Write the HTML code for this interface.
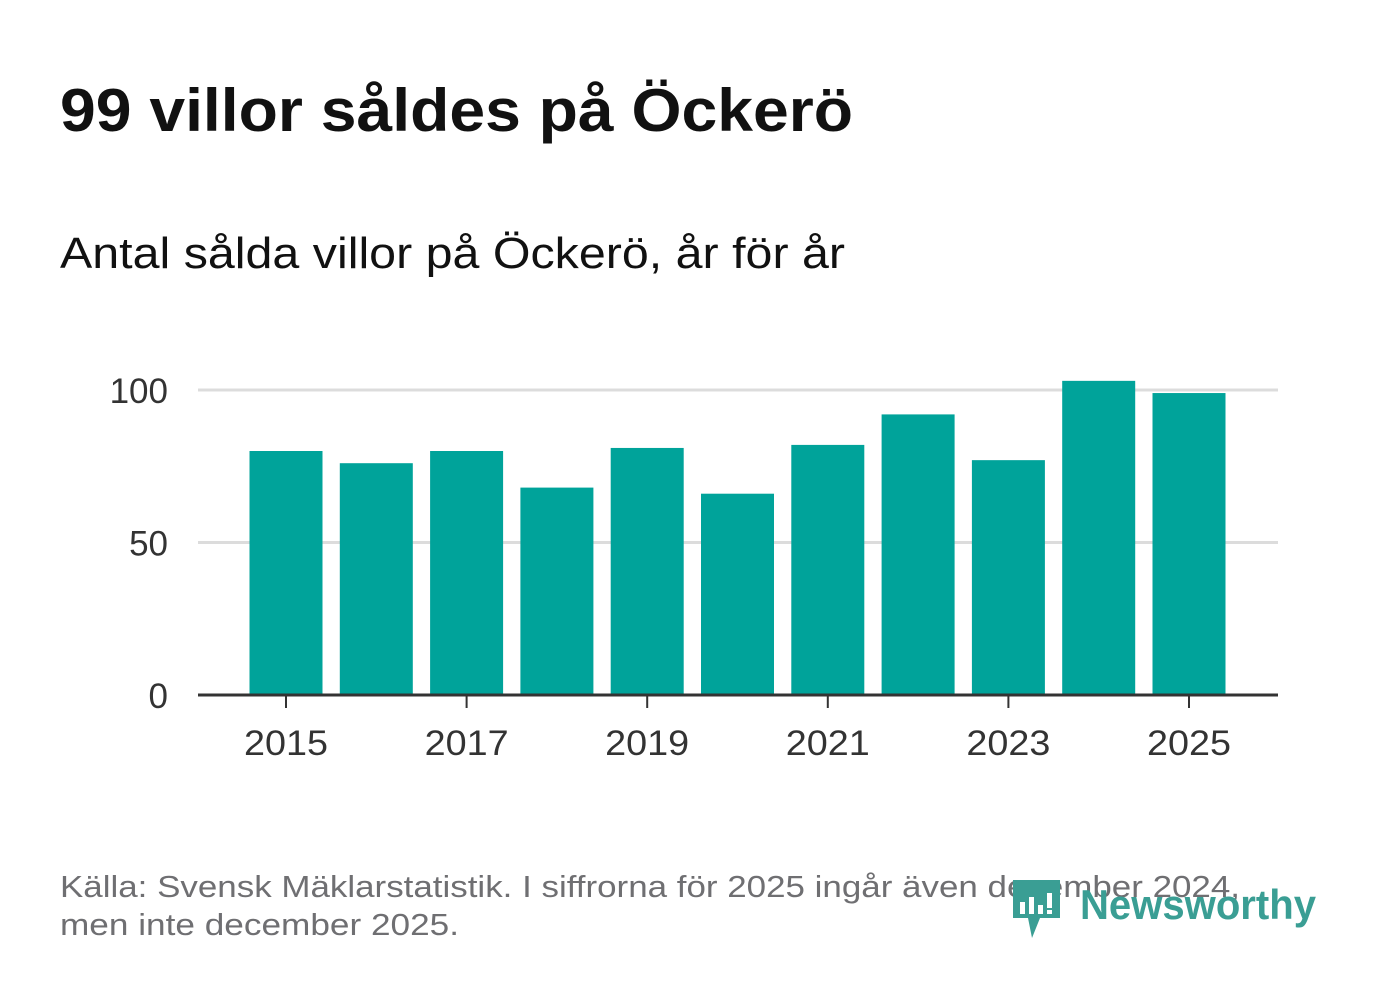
<!DOCTYPE html>
<html><head><meta charset="utf-8"><style>
body{margin:0;width:1382px;height:999px;background:#fff;overflow:hidden;font-family:"Liberation Sans","DejaVu Sans",sans-serif;}
svg{position:absolute;left:0;top:0}
</style></head><body>
<svg width="1382" height="999">
<text x="60" y="131" font-size="60" font-weight="bold" fill="#111" textLength="793" lengthAdjust="spacingAndGlyphs">99 villor såldes på Öckerö</text>
<text x="60" y="268" font-size="44" fill="#111" textLength="785" lengthAdjust="spacingAndGlyphs">Antal sålda villor på Öckerö, år för år</text>
<g id="grid"></g>
<g id="bars"></g>
<g id="axes"></g>
<text x="60" y="897" font-size="31" fill="#6f6f72" textLength="1180" lengthAdjust="spacingAndGlyphs">Källa: Svensk Mäklarstatistik. I siffrorna för 2025 ingår även december 2024,</text>
<text x="60" y="935" font-size="31" fill="#6f6f72" textLength="399" lengthAdjust="spacingAndGlyphs">men inte december 2025.</text>
<g>
<path d="M1013 880 h47 v38 h-20 l-8 20 l-4 -20 h-15 z" fill="#3a9e94"/>
<rect x="1020" y="902" width="5" height="12" fill="#fff"/><rect x="1029" y="897" width="5" height="17" fill="#fff"/><rect x="1038" y="905" width="5" height="9" fill="#fff"/><rect x="1047" y="893" width="5" height="15" fill="#fff"/><rect x="1047" y="910" width="5" height="4" fill="#fff"/>
<text x="1080" y="919" font-size="42" font-weight="bold" fill="#3a9e94" textLength="236" lengthAdjust="spacingAndGlyphs">Newsworthy</text>
</g>
</svg>
<script>
const years=[2015,2016,2017,2018,2019,2020,2021,2022,2023,2024,2025];
const values=[80,76,80,68,81,66,82,92,77,103,99];
const yTicks=[0,50,100];
const xTickLabels=[2015,2017,2019,2021,2023,2025];
const NS="http://www.w3.org/2000/svg";
const y=v=>695-v*3.05;
const x=yr=>286+(yr-2015)*90.3;
function mk(tag,attrs,parent){const e=document.createElementNS(NS,tag);for(const k in attrs)e.setAttribute(k,attrs[k]);document.getElementById(parent).appendChild(e);return e;}
yTicks.forEach(t=>{
 if(t>0){const l=mk('line',{x1:198,x2:1278,y1:y(t),y2:y(t),stroke:'#dcdcdc','stroke-width':3},'grid');
 
 }
 const tx=mk('text',{x:168,y:y(t)+13,'font-size':35,fill:'#333','text-anchor':'end'},'axes');tx.textContent=t;
 
 
});
years.forEach((yr,i)=>{
 const r=mk('rect',{x:x(yr)-36.5,y:y(values[i]),width:73,height:695-y(values[i]),fill:'#00a39a'},'bars');
 
 
});
const ax=mk('line',{x1:198,x2:1278,y1:695,y2:695,stroke:'#333','stroke-width':3},'axes');


xTickLabels.forEach(yr=>{
 const tk=mk('line',{x1:x(yr),x2:x(yr),y1:695,y2:708,stroke:'#333','stroke-width':2},'axes');
 
 
 const tx=mk('text',{x:x(yr),y:755,'font-size':35,fill:'#333','text-anchor':'middle',textLength:84,lengthAdjust:'spacingAndGlyphs'},'axes');tx.textContent=yr;
 
 
});
</script>
</body></html>
